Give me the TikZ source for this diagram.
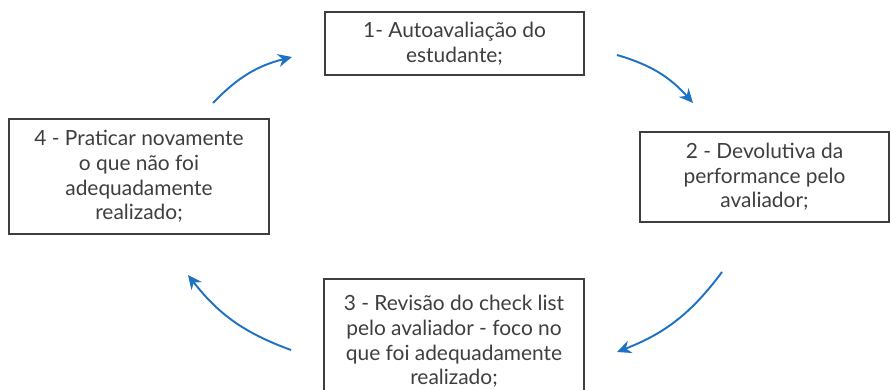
\documentclass[tikz,border=0pt]{standalone}
\usepackage{fontspec}
\setmainfont{Lato}
\usepackage{tikz}
\usetikzlibrary{arrows.meta, positioning}
\definecolor{cycleblue}{RGB}{30,114,196}
\definecolor{boxgray}{RGB}{62,62,62}
\tikzset{
  stepbox/.style={
    rectangle, draw=boxgray, line width=1.1pt,
    text centered, align=center, font=\fontsize{11.9}{14}\selectfont,
    text=boxgray, inner sep=2pt
  },
  cyclearrow/.style={-{Stealth[length=2.8mm,width=2.6mm]}, line width=1.1pt,
    color=cycleblue, bend left=16},
}

\begin{document}
\begin{tikzpicture}
          \useasboundingbox (0,0) rectangle (17.82,-7.8);
          \node[stepbox, minimum width=5.18cm, minimum height=1.26cm]
                (auto) at (9.09,-0.87) {1- Autoavaliação do\\estudante;};
          \node[stepbox, minimum width=4.98cm, minimum height=1.8cm]
                (devol) at (15.29,-3.54) {2 - Devolutiva da\\performance pelo\\avaliador;};
          \node[stepbox, minimum width=5.2cm, minimum height=2.5cm]
                (revis) at (9.08,-6.83) {3 - Revisão do check list\\pelo avaliador - foco no\\que foi adequadamente\\realizado;};
          \node[stepbox, minimum width=5.2cm, minimum height=2.3cm]
                (prat) at (2.78,-3.53) {4 - Praticar novamente\\o que não foi\\adequadamente\\realizado;};
          % pontas soltas das setas do ciclo
          \coordinate (p1a) at (4.26,-2.06);
          \coordinate (p1b) at (5.84,-1.14);
          \coordinate (p2a) at (12.34,-1.10);
          \coordinate (p2b) at (13.86,-2.06);
          \coordinate (p3a) at (14.44,-5.44);
          \coordinate (p3b) at (12.34,-7.04);
          \coordinate (p4a) at (5.82,-7.00);
          \coordinate (p4b) at (3.76,-5.50);
          \draw[cyclearrow](p1a) to (p1b);
          \draw[cyclearrow](p2a) to (p2b);
          \draw[cyclearrow](p3a) to (p3b);
          \draw[cyclearrow](p4a) to (p4b);
        \end{tikzpicture}
\end{document}
